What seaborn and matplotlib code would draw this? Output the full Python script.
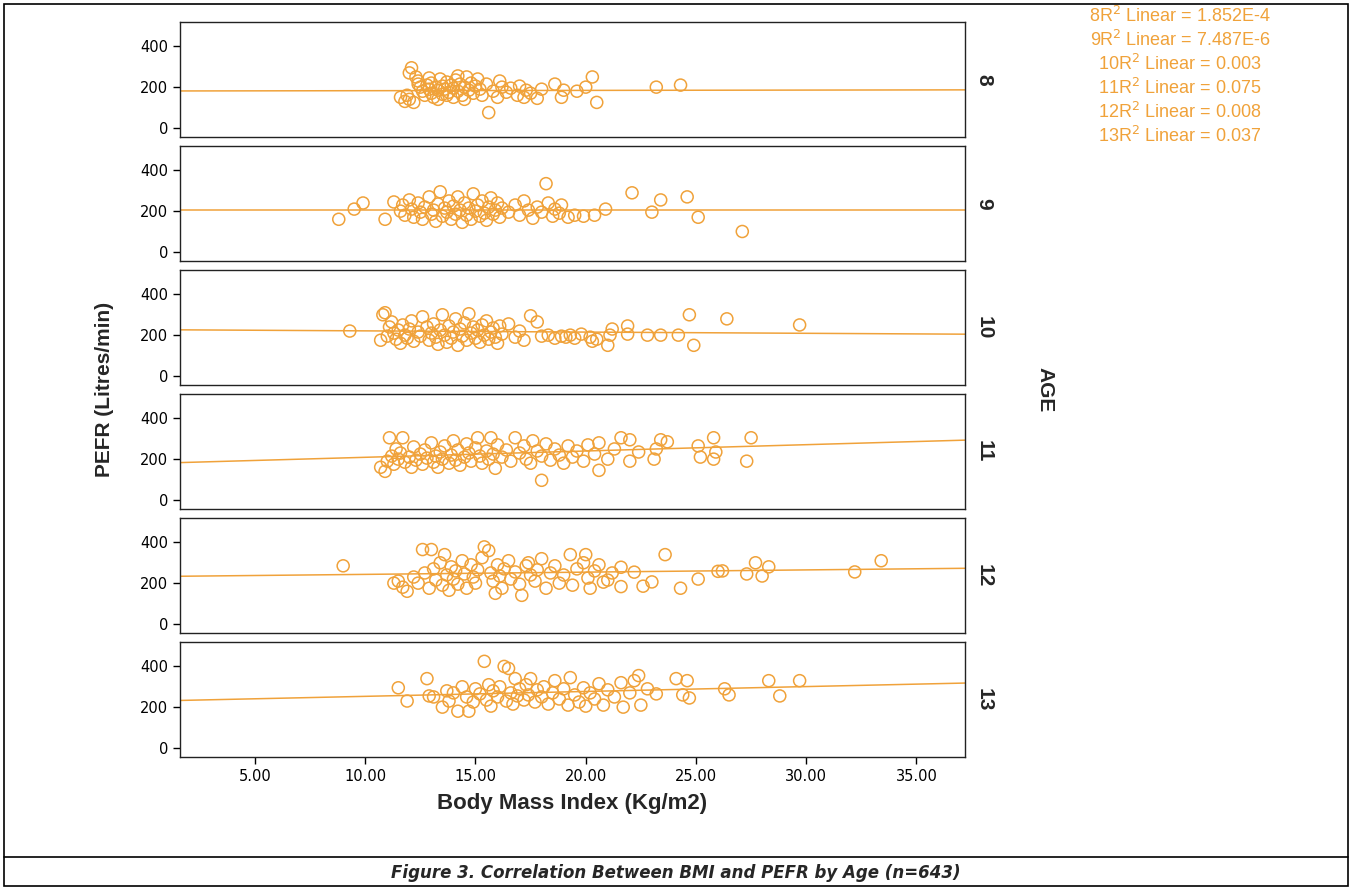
import numpy as np
import pandas as pd
import seaborn as sns
import matplotlib.pyplot as plt
from matplotlib.patches import Rectangle
from matplotlib.lines import Line2D

# ages shown as panels
ages = [8, 9, 10, 11, 12, 13]

# BMI / PEFR readings per age panel
bmi_8 = [11.6, 11.8, 12.0, 12.2, 11.9, 12.1, 12.0, 12.3, 12.4, 12.5, 12.6, 12.7, 12.8, 12.9, 13.0, 13.0,
         13.1, 13.2, 13.3, 13.4, 13.5, 13.5, 13.6, 13.7, 13.8, 13.9, 14.0, 14.0, 14.1, 14.2, 14.3, 14.4,
         14.5, 14.6, 14.7, 14.8, 14.9, 15.0, 15.1, 15.2, 12.4, 12.9, 13.3, 13.7, 14.2, 14.5, 15.3, 15.5,
         15.6, 15.8, 16.0, 16.1, 16.2, 16.4, 16.6, 16.9, 17.0, 17.3, 17.5, 17.8, 18.0, 17.2, 18.6, 18.9,
         19.0, 19.6, 20.0, 20.3, 20.5, 23.2, 24.3]
pefr_8 = [150, 130, 140, 125, 160, 295, 270, 250, 230, 200, 180, 160, 210, 190, 170, 220,
          150, 200, 185, 240, 165, 205, 190, 225, 175, 210, 150, 195, 235, 180, 215, 160,
          200, 250, 185, 220, 170, 205, 240, 190, 215, 245, 140, 160, 255, 140, 160, 215,
          75, 180, 150, 230, 200, 175, 195, 160, 205, 185, 170, 145, 190, 150, 215, 150,
          185, 180, 200, 250, 125, 200, 210]

bmi_9 = [8.8, 9.5, 9.9, 10.9, 11.3, 11.6, 11.7, 11.8, 12.0, 12.1, 12.2, 12.4, 12.5, 12.6, 12.7, 12.9,
         13.0, 13.1, 13.2, 13.3, 13.4, 13.5, 13.6, 13.7, 13.8, 13.9, 14.0, 14.1, 14.2, 14.3, 14.4, 14.5,
         14.6, 14.7, 14.8, 14.9, 15.0, 15.1, 15.2, 15.3, 15.4, 15.5, 15.6, 15.7, 15.8, 15.9, 16.0, 16.1,
         16.2, 16.5, 16.8, 17.0, 17.2, 17.4, 17.6, 17.8, 18.0, 18.2, 18.3, 18.5, 18.6, 18.8, 18.9, 19.2,
         19.5, 19.9, 20.4, 20.9, 22.1, 23.0, 23.4, 24.6, 25.1, 27.1]
pefr_9 = [160, 210, 240, 160, 245, 200, 230, 180, 255, 210, 170, 240, 195, 160, 220, 270,
          185, 205, 150, 235, 295, 175, 215, 195, 250, 160, 225, 185, 270, 205, 145, 240,
          180, 215, 160, 285, 200, 230, 175, 250, 190, 155, 220, 265, 185, 205, 240, 170,
          215, 195, 230, 180, 250, 205, 165, 220, 195, 335, 240, 175, 210, 190, 230, 170,
          180, 175, 180, 210, 290, 195, 255, 270, 170, 100]

bmi_10 = [9.3, 10.7, 10.8, 10.9, 11.0, 11.1, 11.2, 11.3, 11.4, 11.5, 11.6, 11.7, 11.8, 11.9, 12.0, 12.1,
          12.2, 12.4, 12.5, 12.6, 12.8, 12.9, 13.0, 13.1, 13.2, 13.3, 13.4, 13.5, 13.6, 13.7, 13.8, 13.9,
          14.0, 14.1, 14.2, 14.3, 14.4, 14.5, 14.6, 14.7, 14.8, 14.9, 15.0, 15.1, 15.2, 15.3, 15.4, 15.5,
          15.6, 15.7, 15.8, 15.9, 16.0, 16.1, 16.2, 16.5, 16.8, 17.0, 17.2, 17.5, 17.8, 18.0, 18.3, 18.6,
          18.9, 19.1, 19.3, 19.5, 19.8, 20.2, 20.3, 20.5, 21.2, 21.1, 21.0, 21.9, 21.9, 22.8, 23.4, 24.2,
          24.7, 24.9, 26.4, 29.7]
pefr_10 = [220, 175, 300, 310, 195, 240, 265, 210, 180, 225, 160, 250, 200, 185, 230, 270,
           170, 215, 195, 290, 240, 175, 210, 255, 190, 155, 225, 300, 200, 165, 245, 185,
           215, 280, 150, 230, 195, 260, 175, 305, 210, 240, 185, 225, 165, 250, 200, 270,
           180, 215, 235, 190, 160, 245, 205, 255, 190, 220, 175, 295, 265, 195, 200, 185,
           195, 190, 200, 185, 205, 190, 170, 180, 230, 200, 150, 245, 205, 200, 200, 200,
           300, 150, 280, 250]

bmi_11 = [10.7, 10.9, 11.0, 11.1, 11.2, 11.3, 11.4, 11.5, 11.6, 11.7, 11.8, 12.0, 12.1, 12.2, 12.3, 12.5,
          12.6, 12.7, 12.8, 13.0, 13.1, 13.2, 13.3, 13.4, 13.5, 13.6, 13.8, 13.9, 14.0, 14.1, 14.2, 14.3,
          14.5, 14.6, 14.7, 14.8, 15.0, 15.1, 15.2, 15.3, 15.5, 15.6, 15.7, 15.8, 15.9, 16.0, 16.2, 16.4,
          16.6, 16.8, 17.0, 17.2, 17.3, 17.5, 17.6, 17.8, 18.0, 18.0, 18.2, 18.4, 18.6, 18.8, 19.0, 19.2,
          19.4, 19.6, 19.9, 20.1, 20.4, 20.6, 20.6, 21.0, 21.3, 21.6, 22.0, 22.0, 22.4, 23.1, 23.2, 23.4,
          23.7, 25.1, 25.2, 25.8, 25.8, 25.9, 27.3, 27.5]
pefr_11 = [160, 140, 190, 305, 215, 175, 250, 200, 230, 305, 185, 210, 160, 260, 195, 225,
           175, 245, 205, 280, 185, 215, 160, 235, 200, 265, 180, 220, 290, 195, 245, 170,
           210, 275, 230, 190, 255, 305, 215, 180, 240, 200, 305, 225, 155, 270, 210, 245,
           190, 305, 230, 265, 200, 180, 290, 240, 96, 215, 275, 195, 250, 220, 180, 265,
           210, 240, 190, 270, 225, 280, 145, 200, 250, 305, 295, 190, 235, 200, 250, 295,
           285, 265, 210, 305, 200, 235, 190, 305]

bmi_12 = [9.0, 11.3, 11.5, 11.7, 11.9, 12.2, 12.4, 12.6, 12.7, 12.9, 13.0, 13.1, 13.2, 13.4, 13.5, 13.6,
          13.7, 13.8, 13.9, 14.0, 14.1, 14.2, 14.4, 14.5, 14.6, 14.8, 14.9, 15.0, 15.1, 15.3, 15.4, 15.6,
          15.7, 15.8, 15.9, 16.0, 16.1, 16.2, 16.3, 16.5, 16.6, 16.8, 17.0, 17.1, 17.3, 17.4, 17.5, 17.7,
          17.8, 18.0, 18.2, 18.4, 18.6, 18.8, 19.0, 19.3, 19.4, 19.6, 19.9, 20.0, 20.1, 20.2, 20.4, 20.6,
          20.8, 21.0, 21.2, 21.6, 21.6, 22.2, 22.6, 23.0, 23.6, 24.3, 25.1, 26.0, 26.2, 27.3, 27.7, 28.0,
          28.3, 32.2, 33.4]
pefr_12 = [285, 200, 210, 180, 160, 230, 200, 365, 250, 175, 365, 270, 215, 300, 190, 340,
           240, 165, 280, 220, 260, 195, 310, 245, 175, 290, 230, 200, 265, 325, 378, 360,
           250, 210, 150, 290, 235, 175, 270, 310, 220, 255, 195, 140, 285, 300, 240, 210,
           265, 320, 175, 250, 285, 200, 240, 340, 190, 270, 300, 340, 225, 175, 260, 290,
           205, 215, 250, 278, 183, 254, 185, 206, 340, 175, 220, 258, 260, 245, 300, 235,
           280, 255, 310]

bmi_13 = [11.5, 11.9, 12.8, 12.9, 13.1, 13.5, 13.7, 13.8, 14.0, 14.2, 14.4, 14.6, 14.7, 14.9, 15.0, 15.2,
          15.4, 15.5, 15.6, 15.7, 15.8, 16.0, 16.1, 16.3, 16.4, 16.5, 16.6, 16.7, 16.8, 16.9, 17.0, 17.2,
          17.3, 17.4, 17.5, 17.7, 17.8, 18.0, 18.1, 18.3, 18.5, 18.6, 18.8, 19.0, 19.2, 19.3, 19.5, 19.7,
          19.9, 20.0, 20.2, 20.4, 20.6, 20.8, 21.0, 21.3, 21.6, 21.7, 22.0, 22.2, 22.4, 22.5, 22.8, 23.2,
          24.1, 24.4, 24.6, 24.7, 26.3, 26.5, 28.3, 28.8, 29.7]
pefr_13 = [295, 230, 340, 255, 250, 200, 280, 230, 270, 180, 300, 250, 180, 225, 290, 265,
           425, 235, 310, 205, 280, 250, 300, 400, 230, 390, 270, 215, 340, 255, 290, 235,
           310, 260, 340, 225, 285, 250, 300, 215, 270, 330, 240, 290, 210, 345, 260, 225,
           295, 205, 270, 240, 315, 210, 285, 250, 320, 200, 270, 330, 355, 210, 290, 265,
           340, 260, 330, 245, 290, 260, 330, 255, 330]

# linear fit lines (intercept, slope per BMI unit)
fit_intercept = [181, 205, 227, 178, 232, 229]
fit_slope = [0.15, 0.0, -0.6, 3.1, 1.1, 2.4]
r2_text = ["1.852E-4", "7.487E-6", "0.003", "0.075", "0.008", "0.037"]

bmi_all = [bmi_8, bmi_9, bmi_10, bmi_11, bmi_12, bmi_13]
pefr_all = [pefr_8, pefr_9, pefr_10, pefr_11, pefr_12, pefr_13]

df = pd.concat([pd.DataFrame({'AGE': a, 'BMI': b, 'PEFR': p})
                for a, b, p in zip(ages, bmi_all, pefr_all)], ignore_index=True)

sns.set_style('white')
plt.rcParams['font.family'] = ['DejaVu Sans']
orange = '#F0A23A'

W, H = 1352, 890
fig = plt.figure(figsize=(W / 100, H / 100), dpi=100)

left, right = 180, 965
top0, panel_h, step = 22, 115, 124
axes = []
for i, age in enumerate(ages):
    t = top0 + i * step
    ax = fig.add_axes([left / W, 1 - (t + panel_h) / H, (right - left) / W, panel_h / H])
    sub = df[df['AGE'] == age]
    sns.scatterplot(data=sub, x='BMI', y='PEFR', ax=ax, s=75, facecolor='none',
                    edgecolor=orange, linewidth=1.1, legend=False)
    ax.set_xlim(1.6, 37.2)
    ax.set_ylim(-45, 520)
    ax.axline((0, fit_intercept[i]), slope=fit_slope[i], color=orange, lw=1.1)
    ax.set_yticks([0, 200, 400])
    ax.set_xticks([5, 10, 15, 20, 25, 30, 35])
    ax.tick_params(axis='both', direction='out', length=5, width=1, colors='black',
                   labelsize=10.5, left=True, bottom=(i == 5))
    if i < 5:
        ax.set_xticklabels([])
    else:
        ax.set_xticklabels([f'{v:.2f}' for v in [5, 10, 15, 20, 25, 30, 35]])
    ax.set_xlabel('')
    ax.set_ylabel('')
    for s in ax.spines.values():
        s.set_color('#222222')
        s.set_linewidth(1.0)
    ax.text(1.024, 0.5, str(age), transform=ax.transAxes, rotation=-90, ha='center',
            va='center', fontsize=15, fontweight='bold', family='Liberation Sans')
    axes.append(ax)

mid_y = 1 - (top0 + (5 * step + panel_h) / 2) / H
fig.text(105 / W, mid_y, 'PEFR (Litres/min)', rotation=90, ha='center', va='center',
         fontsize=15, fontweight='bold', family='Liberation Sans')
fig.text(1045 / W, mid_y, 'AGE', rotation=-90, ha='center', va='center',
         fontsize=15, fontweight='bold', family='Liberation Sans')
fig.text((left + right) / 2 / W, 1 - 803 / H, 'Body Mass Index (Kg/m2)', ha='center',
         va='center', fontsize=16, fontweight='bold', family='Liberation Sans')

# R-squared annotations
for k, (age, r2) in enumerate(zip(ages, r2_text)):
    fig.text(1180 / W, 1 - (16 + k * 24) / H, f'{age}R$^2$ Linear = {r2}', ha='center',
             va='center', fontsize=13, color=orange, family='Liberation Sans')

# outer frame and caption
fig.add_artist(Rectangle((4 / W, 4 / H), (W - 8) / W, (H - 8) / H, transform=fig.transFigure,
                         fill=False, edgecolor='black', lw=1.2))
fig.add_artist(Line2D([4 / W, (W - 4) / W], [1 - 857 / H, 1 - 857 / H],
                      transform=fig.transFigure, color='black', lw=1.2))
fig.text(0.5, 1 - 873 / H, 'Figure 3. Correlation Between BMI and PEFR by Age (n=643)',
         ha='center', va='center', fontsize=12, fontweight='bold', style='italic')

fig.savefig('out.png', dpi=100)
